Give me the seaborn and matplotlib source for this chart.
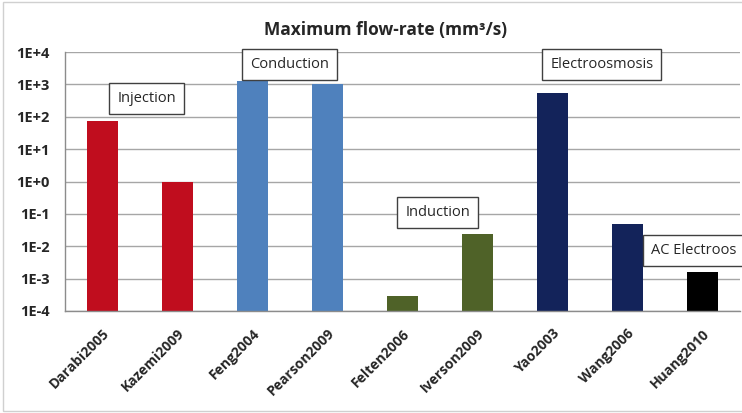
import pandas as pd
import matplotlib.pyplot as plt
import seaborn as sns
from matplotlib.patches import Rectangle
from matplotlib.ticker import FixedLocator, NullLocator

# Data (mm^3/s, log scale)
studies = ['Darabi2005', 'Kazemi2009', 'Feng2004', 'Pearson2009', 'Felten2006',
           'Iverson2009', 'Yao2003', 'Wang2006', 'Huang2010']
flow_rate = [74, 1.0, 1290, 1000, 2.9e-4, 0.024, 530, 0.049, 0.0016]
bar_colors = ['#C00D1E', '#C00D1E', '#4F81BD', '#4F81BD', '#4F6228',
              '#4F6228', '#13235A', '#13235A', '#000000']

# Group labels: text, x (category index), y (data value), alignment
group_names = ['Injection', 'Conduction', 'Induction', 'Electroosmosis', 'AC Electroos']
group_x = [0.59, 2.49, 4.47, 6.66, 7.31]
group_y = [355, 4000, 0.107, 4070, 0.0072]
group_ha = ['center', 'center', 'center', 'center', 'left']

ytick_vals = [1e-4, 1e-3, 1e-2, 1e-1, 1e0, 1e1, 1e2, 1e3, 1e4]
ytick_labels = ['1E-4', '1E-3', '1E-2', '1E-1', '1E+0', '1E+1', '1E+2', '1E+3', '1E+4']

df = pd.DataFrame({'study': studies, 'rate': flow_rate})

sns.set_style('white')
plt.rcParams['font.family'] = ['Open Sans', 'DejaVu Sans']

fig = plt.figure(figsize=(7.42, 4.13), dpi=100)
ax = fig.add_axes([0.0876, 0.247, 0.9094, 0.627])
ax.set_yscale('log')

sns.barplot(data=df, x='study', y='rate', hue='study', palette=bar_colors,
            width=0.41, legend=False, ax=ax, saturation=1, linewidth=0)

ax.set_ylim(1e-4, 1e4)
ax.set_xlim(-0.5, len(studies) - 0.5)
ax.yaxis.set_major_locator(FixedLocator(ytick_vals))
ax.yaxis.set_minor_locator(NullLocator())
ax.set_yticklabels(ytick_labels, fontsize=10.5, fontweight='bold', color='#262626')
ax.set_xticks(range(len(studies)))
ax.set_xticklabels(studies, rotation=45, ha='right', rotation_mode='anchor',
                   fontsize=10, fontweight='bold', color='#262626')
ax.tick_params(axis='y', length=0, pad=11)
ax.tick_params(axis='x', length=0, pad=11)
ax.grid(axis='y', color='#A6A6A6', linewidth=1)
ax.set_axisbelow(True)
for side in ['top', 'right']:
    ax.spines[side].set_visible(False)
for side in ['left', 'bottom']:
    ax.spines[side].set_color('#8C8C8C')
    ax.spines[side].set_linewidth(1)
ax.set_xlabel('')
ax.set_ylabel('')

for name, gx, gy, ha in zip(group_names, group_x, group_y, group_ha):
    ax.text(gx, gy, name, ha=ha, va='center', fontsize=10.5, color='#262626',
            bbox=dict(boxstyle='square,pad=0.55', fc='white', ec='#404040', lw=1),
            clip_on=False, zorder=5)

fig.text(0.519, 0.927, 'Maximum flow-rate (mm³/s)', ha='center', va='center',
         fontsize=12.5, fontweight='bold', color='#262626')

# light outer chart border
fig.patches.append(Rectangle((0.004, 0.005), 1.2, 0.99, transform=fig.transFigure,
                             fill=False, ec='#D0D0D0', lw=1))

fig.savefig('out.png', dpi=100)
